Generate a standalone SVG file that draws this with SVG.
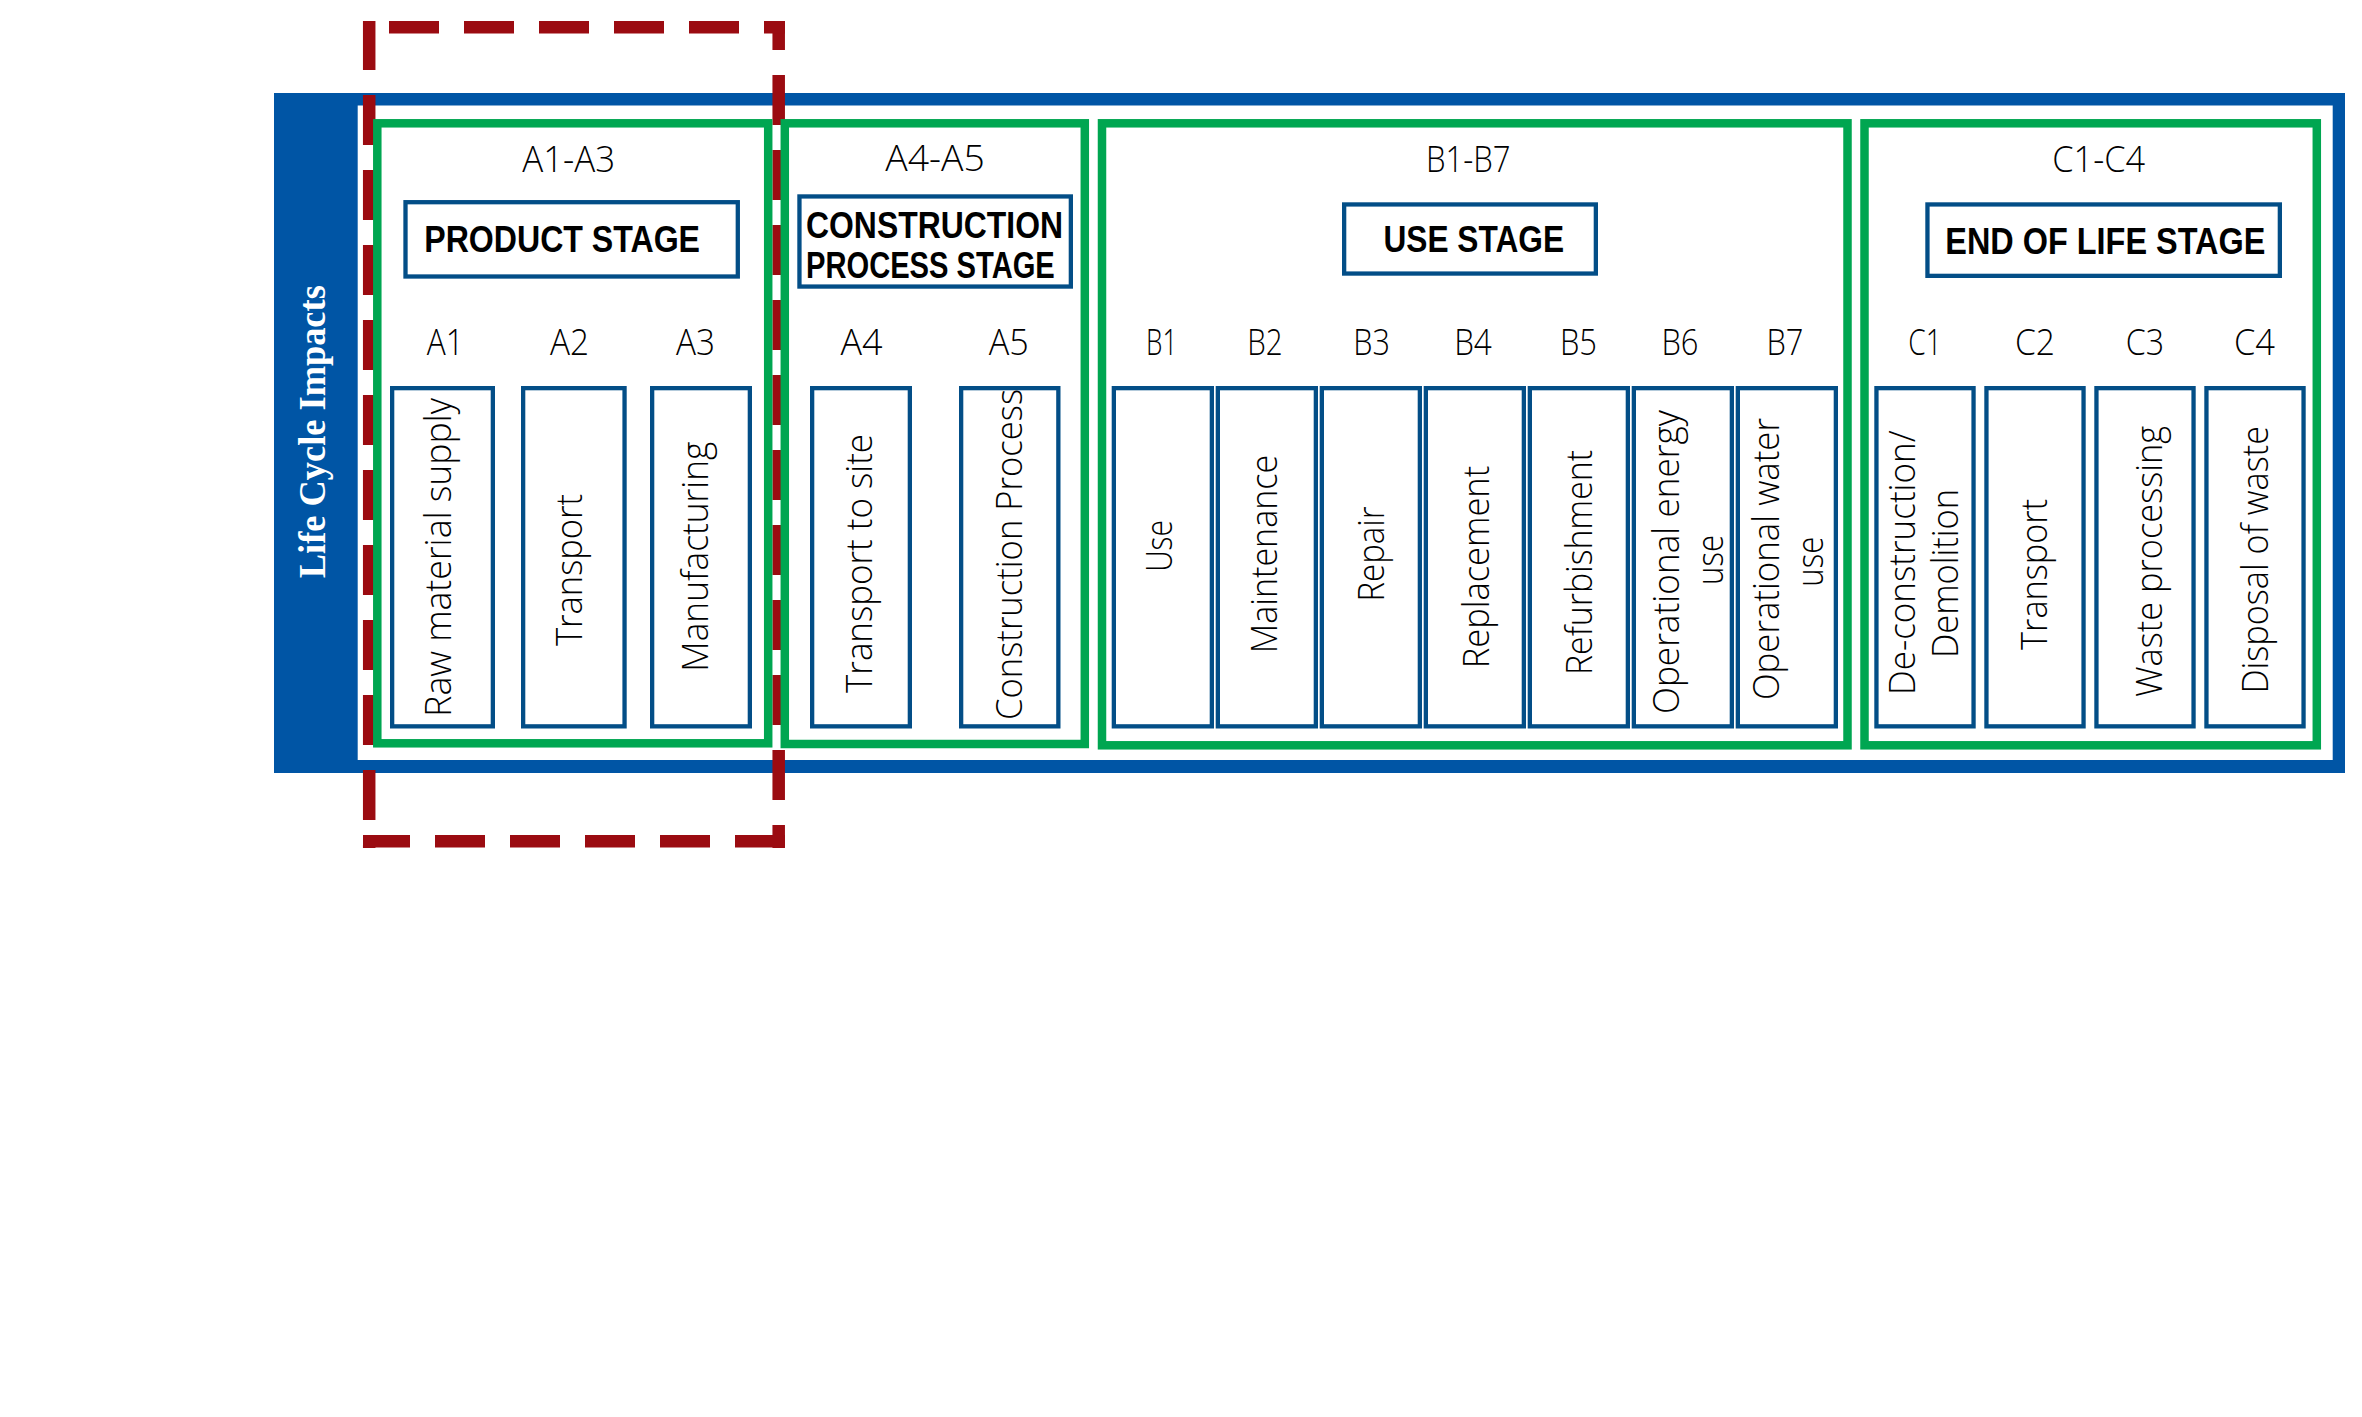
<svg xmlns="http://www.w3.org/2000/svg" width="2362" height="1417" viewBox="0 0 2362 1417">
<defs>
<style>
.stage{fill:none;stroke:#00A651;stroke-width:8.5}
.box{fill:#FFFFFF;stroke:#034E87;stroke-width:4.3}
.red{fill:none;stroke:#9B0B11;stroke-width:12.5;stroke-dasharray:50 25}
.lbl{font-family:"Open Sans","Noto Sans","Liberation Sans",sans-serif;font-weight:300;font-size:36px;fill:#000000}
.hdr{font-family:"Liberation Sans","Arial",sans-serif;font-weight:700;font-size:36px;fill:#000000}
.side{font-family:"Liberation Serif","DejaVu Serif",serif;font-weight:700;font-size:38px;fill:#FFFFFF}
</style>
</defs>
<rect width="2362" height="1417" fill="#FFFFFF"/>

<g id="frame">
<rect x="274" y="93" width="2071" height="680" fill="#0055A5"/>
<rect x="357.7" y="105.5" width="1975" height="654.5" fill="#FFFFFF"/>
<text class="side" transform="translate(325.4,431.7) rotate(-90)" text-anchor="middle" textLength="293" lengthAdjust="spacingAndGlyphs">Life Cycle Impacts</text>
</g>

<g id="highlight">
<line class="red" x1="369.2" y1="21" x2="369.2" y2="848" stroke-dashoffset="1"/>
<line class="red" x1="778.7" y1="21" x2="778.7" y2="848" stroke-dashoffset="21"/>
<line class="red" x1="363" y1="27.2" x2="785" y2="27.2" stroke-dashoffset="49"/>
<line class="red" x1="363" y1="841.3" x2="785" y2="841.3" stroke-dashoffset="3"/>
</g>

<g id="stage-a1-a3">
<rect class="stage" x="377.3" y="123.3" width="390.9" height="620"/>
<text class="lbl" x="568.7" y="171.7" text-anchor="middle" textLength="93" lengthAdjust="spacingAndGlyphs">A1-A3</text>
<rect class="box" x="405.5" y="202.2" width="332.3" height="74.3"/>
<text class="hdr" x="424.3" y="251.7" textLength="275.7" lengthAdjust="spacingAndGlyphs">PRODUCT STAGE</text>
</g>
<g id="node-a1">
<text class="lbl" x="445.3" y="355" text-anchor="middle" textLength="37" lengthAdjust="spacingAndGlyphs">A1</text>
<rect class="box" x="392.15" y="388.15" width="100.7" height="338.2"/>
<text class="lbl" transform="translate(451,557.4) rotate(-90)" text-anchor="middle" textLength="318.7" lengthAdjust="spacingAndGlyphs">Raw material supply</text>
</g>
<g id="node-a2">
<text class="lbl" x="569.5" y="355" text-anchor="middle" textLength="39" lengthAdjust="spacingAndGlyphs">A2</text>
<rect class="box" x="523.15" y="388.15" width="101.4" height="338.2"/>
<text class="lbl" transform="translate(581.5,570) rotate(-90)" text-anchor="middle" textLength="152" lengthAdjust="spacingAndGlyphs">Transport</text>
</g>
<g id="node-a3">
<text class="lbl" x="695.5" y="355" text-anchor="middle" textLength="39" lengthAdjust="spacingAndGlyphs">A3</text>
<rect class="box" x="652.15" y="388.15" width="97.7" height="338.2"/>
<text class="lbl" transform="translate(708.3,556.7) rotate(-90)" text-anchor="middle" textLength="230" lengthAdjust="spacingAndGlyphs">Manufacturing</text>
</g>

<g id="stage-a4-a5">
<rect class="stage" x="784.8" y="123.3" width="300" height="620.7"/>
<text class="lbl" x="935" y="171.2" text-anchor="middle" textLength="99.5" lengthAdjust="spacingAndGlyphs">A4-A5</text>
<rect class="box" x="799.45" y="196.45" width="271.4" height="90.1"/>
<text class="hdr" x="806" y="237.7" textLength="257" lengthAdjust="spacingAndGlyphs">CONSTRUCTION</text>
<text class="hdr" x="806" y="278.3" textLength="248.8" lengthAdjust="spacingAndGlyphs">PROCESS STAGE</text>
</g>
<g id="node-a4">
<text class="lbl" x="861.5" y="355" text-anchor="middle" textLength="42" lengthAdjust="spacingAndGlyphs">A4</text>
<rect class="box" x="812.15" y="388.15" width="97.7" height="338.2"/>
<text class="lbl" transform="translate(872,563.5) rotate(-90)" text-anchor="middle" textLength="259" lengthAdjust="spacingAndGlyphs">Transport to site</text>
</g>
<g id="node-a5">
<text class="lbl" x="1008.7" y="355" text-anchor="middle" textLength="40" lengthAdjust="spacingAndGlyphs">A5</text>
<rect class="box" x="961.15" y="388.15" width="97.2" height="338.2"/>
<text class="lbl" transform="translate(1022,554.5) rotate(-90)" text-anchor="middle" textLength="331" lengthAdjust="spacingAndGlyphs">Construction Process</text>
</g>

<g id="stage-b1-b7">
<rect class="stage" x="1102" y="123.3" width="745.5" height="622"/>
<text class="lbl" x="1468.3" y="171.7" text-anchor="middle" textLength="84.7" lengthAdjust="spacingAndGlyphs">B1-B7</text>
<rect class="box" x="1344.15" y="204.45" width="251.7" height="69.1"/>
<text class="hdr" x="1383.5" y="251.7" textLength="180.5" lengthAdjust="spacingAndGlyphs">USE STAGE</text>
</g>
<g id="node-b1">
<text class="lbl" x="1161.7" y="355" text-anchor="middle" textLength="31.3" lengthAdjust="spacingAndGlyphs">B1</text>
<rect class="box" x="1113.85" y="388.15" width="98" height="338.2"/>
<text class="lbl" transform="translate(1172,546) rotate(-90)" text-anchor="middle" textLength="51.7" lengthAdjust="spacingAndGlyphs">Use</text>
</g>
<g id="node-b2">
<text class="lbl" x="1265" y="355" text-anchor="middle" textLength="35.4" lengthAdjust="spacingAndGlyphs">B2</text>
<rect class="box" x="1217.85" y="388.15" width="98" height="338.2"/>
<text class="lbl" transform="translate(1276.5,554) rotate(-90)" text-anchor="middle" textLength="198.3" lengthAdjust="spacingAndGlyphs">Maintenance</text>
</g>
<g id="node-b3">
<text class="lbl" x="1371.7" y="355" text-anchor="middle" textLength="36.7" lengthAdjust="spacingAndGlyphs">B3</text>
<rect class="box" x="1321.85" y="388.15" width="98" height="338.2"/>
<text class="lbl" transform="translate(1383.5,554) rotate(-90)" text-anchor="middle" textLength="95" lengthAdjust="spacingAndGlyphs">Repair</text>
</g>
<g id="node-b4">
<text class="lbl" x="1473" y="355" text-anchor="middle" textLength="37.7" lengthAdjust="spacingAndGlyphs">B4</text>
<rect class="box" x="1425.85" y="388.15" width="98" height="338.2"/>
<text class="lbl" transform="translate(1489,567) rotate(-90)" text-anchor="middle" textLength="202.3" lengthAdjust="spacingAndGlyphs">Replacement</text>
</g>
<g id="node-b5">
<text class="lbl" x="1578.5" y="355" text-anchor="middle" textLength="37" lengthAdjust="spacingAndGlyphs">B5</text>
<rect class="box" x="1529.85" y="388.15" width="98" height="338.2"/>
<text class="lbl" transform="translate(1592,562.5) rotate(-90)" text-anchor="middle" textLength="225" lengthAdjust="spacingAndGlyphs">Refurbishment</text>
</g>
<g id="node-b6">
<text class="lbl" x="1680" y="355" text-anchor="middle" textLength="37" lengthAdjust="spacingAndGlyphs">B6</text>
<rect class="box" x="1633.85" y="388.15" width="98" height="338.2"/>
<text class="lbl" transform="translate(1679,562) rotate(-90)" text-anchor="middle" textLength="304" lengthAdjust="spacingAndGlyphs">Operational energy</text>
<text class="lbl" transform="translate(1723,560) rotate(-90)" text-anchor="middle" textLength="50" lengthAdjust="spacingAndGlyphs">use</text>
</g>
<g id="node-b7">
<text class="lbl" x="1785" y="355" text-anchor="middle" textLength="37" lengthAdjust="spacingAndGlyphs">B7</text>
<rect class="box" x="1737.85" y="388.15" width="98" height="338.2"/>
<text class="lbl" transform="translate(1779,559) rotate(-90)" text-anchor="middle" textLength="282" lengthAdjust="spacingAndGlyphs">Operational water</text>
<text class="lbl" transform="translate(1823,561.7) rotate(-90)" text-anchor="middle" textLength="50" lengthAdjust="spacingAndGlyphs">use</text>
</g>

<g id="stage-c1-c4">
<rect class="stage" x="1864.5" y="123.3" width="452.3" height="622"/>
<text class="lbl" x="2098.7" y="171.7" text-anchor="middle" textLength="92.7" lengthAdjust="spacingAndGlyphs">C1-C4</text>
<rect class="box" x="1927.45" y="204.45" width="352.4" height="71.4"/>
<text class="hdr" x="1945.3" y="254" textLength="320" lengthAdjust="spacingAndGlyphs">END OF LIFE STAGE</text>
</g>
<g id="node-c1">
<text class="lbl" x="1925" y="355" text-anchor="middle" textLength="33.4" lengthAdjust="spacingAndGlyphs">C1</text>
<rect class="box" x="1876.45" y="388.15" width="97.1" height="338.2"/>
<text class="lbl" transform="translate(1915,562.7) rotate(-90)" text-anchor="middle" textLength="264.6" lengthAdjust="spacingAndGlyphs">De-construction/</text>
<text class="lbl" transform="translate(1957.7,573.5) rotate(-90)" text-anchor="middle" textLength="169" lengthAdjust="spacingAndGlyphs">Demolition</text>
</g>
<g id="node-c2">
<text class="lbl" x="2035" y="355" text-anchor="middle" textLength="40" lengthAdjust="spacingAndGlyphs">C2</text>
<rect class="box" x="1986.45" y="388.15" width="97.1" height="338.2"/>
<text class="lbl" transform="translate(2046.7,574.4) rotate(-90)" text-anchor="middle" textLength="151" lengthAdjust="spacingAndGlyphs">Transport</text>
</g>
<g id="node-c3">
<text class="lbl" x="2145" y="355" text-anchor="middle" textLength="38.3" lengthAdjust="spacingAndGlyphs">C3</text>
<rect class="box" x="2096.45" y="388.15" width="97.1" height="338.2"/>
<text class="lbl" transform="translate(2162,561.5) rotate(-90)" text-anchor="middle" textLength="271" lengthAdjust="spacingAndGlyphs">Waste processing</text>
</g>
<g id="node-c4">
<text class="lbl" x="2254.5" y="355" text-anchor="middle" textLength="41" lengthAdjust="spacingAndGlyphs">C4</text>
<rect class="box" x="2206.45" y="388.15" width="97.1" height="338.2"/>
<text class="lbl" transform="translate(2268.3,559.8) rotate(-90)" text-anchor="middle" textLength="267.6" lengthAdjust="spacingAndGlyphs">Disposal of waste</text>
</g>
</svg>
